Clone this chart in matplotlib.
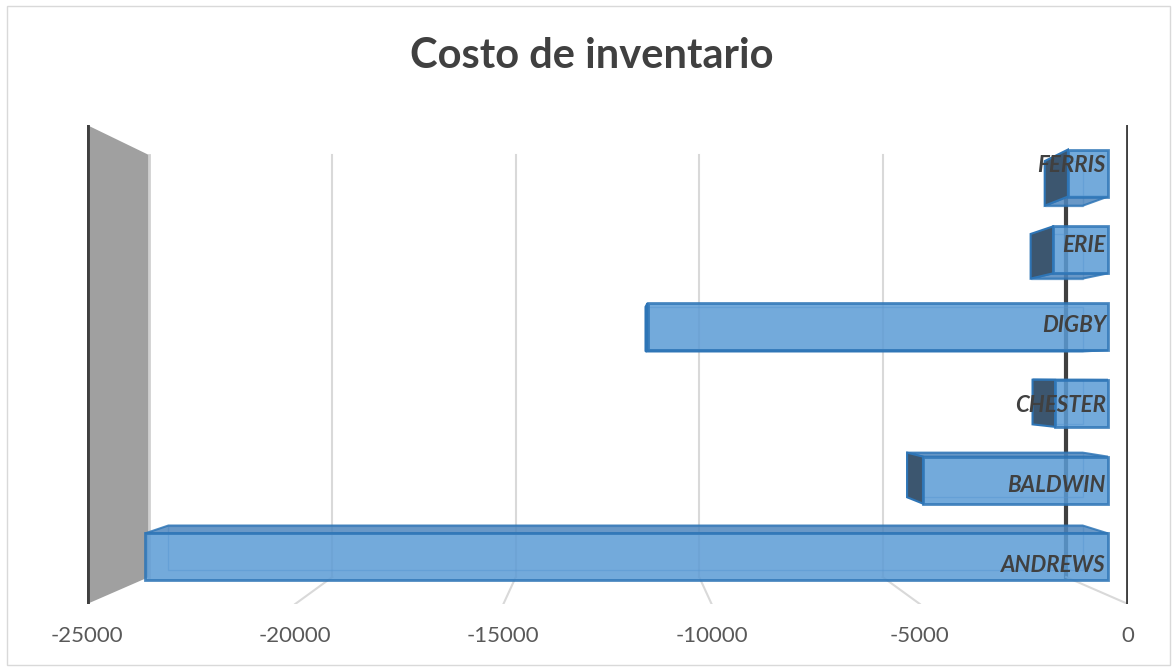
import matplotlib.pyplot as plt
from matplotlib.patches import Polygon, Rectangle

companies = ['ANDREWS', 'BALDWIN', 'CHESTER', 'DIGBY', 'ERIE', 'FERRIS']
costs = [-24050, -4620, -1320, -11500, -1370, -1000]
ticks = [-25000, -20000, -15000, -10000, -5000, 0]

plt.rcParams['font.family'] = ['Lato', 'DejaVu Sans']

W, H = 1176, 671
fig = plt.figure(figsize=(W / 100, H / 100), dpi=100)
ax = fig.add_axes([87 / W, (H - 604) / H, (1128 - 87) / W, (604 - 125) / H])
ax.set_xlim(ticks[0], ticks[-1])
ax.set_ylim(-0.5, len(companies) - 0.5)

# simple perspective: points shrink towards the vanishing point with depth
XC, YC = -12500, 2.34
S_WALL = 0.881              # back wall
S_FRONT, S_BACK = 0.9615, 0.913   # front / back faces of the bars
HH = 0.306                  # half bar thickness (category units)


def proj(x, y, s):
    return XC + (x - XC) * s, YC + (y - YC) * s


y0, y1 = -0.5, len(companies) - 0.5

# gray side wall on the left
wall = [(ticks[0], y0), (ticks[0], y1), proj(ticks[0], y1, S_WALL), proj(ticks[0], y0, S_WALL)]
ax.add_patch(Polygon(wall, closed=True, fc='#A0A0A0', ec='none', zorder=1))
xs, ys = zip(proj(ticks[0], y0, S_WALL), proj(ticks[0], y1, S_WALL))
ax.plot(xs, ys, color='#D0D0D0', lw=2, zorder=1)

# gridlines on the back wall and floor
for t in ticks[1:]:
    bx, by0 = proj(t, y0, S_WALL)
    _, by1 = proj(t, y1, S_WALL)
    if t == 0:
        ax.plot([bx, bx], [by0, by1], color='#404040', lw=3, zorder=1)
    else:
        ax.plot([bx, bx], [by0, by1], color='#D9D9D9', lw=1.5, zorder=1)
    ax.plot([bx, t], [by0, y0], color='#D9D9D9', lw=1.5, zorder=1)

# bars as transparent boxes
for i, v in enumerate(costs):
    F = [proj(v, i - HH, S_FRONT), proj(0, i - HH, S_FRONT),
         proj(0, i + HH, S_FRONT), proj(v, i + HH, S_FRONT)]
    B = [proj(v, i - HH, S_BACK), proj(0, i - HH, S_BACK),
         proj(0, i + HH, S_BACK), proj(v, i + HH, S_BACK)]
    ax.add_patch(Polygon(B, closed=True, fill=False, ec='#2E75B6', lw=1, alpha=0.45, zorder=2))
    if i + HH < YC:
        ax.add_patch(Polygon([F[3], F[2], B[2], B[3]], closed=True, fc='#4F86BD',
                             ec='#2E75B6', lw=1.5, alpha=0.85, zorder=3))
    if i - HH > YC:
        ax.add_patch(Polygon([F[0], F[1], B[1], B[0]], closed=True, fc='#4F86BD',
                             ec='#2E75B6', lw=1.5, alpha=0.85, zorder=3))
    if v > XC:
        ax.add_patch(Polygon([F[0], F[3], B[3], B[0]], closed=True, fc='#3C566F',
                             ec='#2E75B6', lw=1.5, zorder=3))
    ax.add_patch(Polygon(F, closed=True, fc='#5B9BD5', ec='#2E75B6', lw=2, alpha=0.85, zorder=4))
    ax.annotate(companies[i], xy=(0, i), xytext=(-22, -1), textcoords='offset pixels',
                ha='right', va='center', fontsize=16, fontweight='bold', fontstyle='italic',
                color='#404040', zorder=6)

# front edges
for t in (ticks[0], ticks[-1]):
    ax.plot([t, t], [y0, y1], color='#404040', lw=3.5, solid_capstyle='round', zorder=5)

ax.set_xticks(ticks)
ax.set_xticklabels([str(t) for t in ticks])
ax.set_yticks([])
ax.tick_params(axis='x', length=0, pad=16, labelsize=16, labelcolor='#595959')
for sp in ax.spines.values():
    sp.set_visible(False)

fig.text(592 / W, 1 - 56 / H, 'Costo de inventario', ha='center', va='center',
         fontsize=30, fontweight='bold', color='#404040')

fig.patches.append(Rectangle((7 / W, 6 / H), (1170 - 7) / W, (665 - 6) / H,
                             transform=fig.transFigure, fill=False, ec='#D9D9D9', lw=1))

fig.savefig('out.png', dpi=100)
